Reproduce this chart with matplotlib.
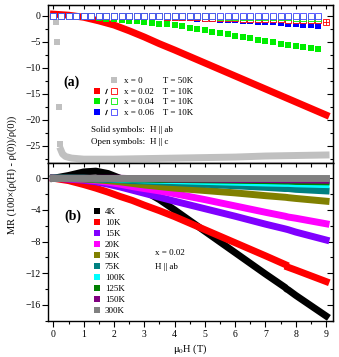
import numpy as np
import matplotlib
matplotlib.use("Agg")
import matplotlib.pyplot as plt
from matplotlib.lines import Line2D
from matplotlib.legend_handler import HandlerTuple
from matplotlib.ticker import MultipleLocator

plt.rcParams['font.family'] = ['Liberation Serif', 'DejaVu Serif']
plt.rcParams['mathtext.fontset'] = 'stix'

# ---------------- panel (a) data ----------------
# open / sparse solid symbols, field grid of the measurement (T)
H_sq = [0.0, 0.25, 0.5, 0.75, 1.0, 1.25, 1.5, 1.75, 2.0, 2.25, 2.5, 2.75,
        3.0, 3.25, 3.5, 3.75, 4.0, 4.25, 4.5, 4.75, 5.0, 5.25, 5.5, 5.75,
        6.0, 6.25, 6.5, 6.75, 7.0, 7.25, 7.5, 7.75, 8.0, 8.25, 8.5, 8.75]
mr_004_ab = [0.0, 0.0, -0.05, -0.1, -0.2, -0.3, -0.45, -0.55, -0.7, -0.8, -0.95, -1.05,
             -1.2, -1.35, -1.5, -1.65, -1.8, -2.05, -2.3, -2.55, -2.8, -3.05, -3.3, -3.6,
             -3.85, -4.1, -4.35, -4.6, -4.85, -5.1, -5.35, -5.55, -5.8, -6.05, -6.3, -6.5]
mr_006_ab = [0.0, 0.0, 0.0, 0.0, 0.0, 0.0, 0.0, -0.05, -0.05, -0.1, -0.1, -0.15,
             -0.2, -0.25, -0.3, -0.35, -0.4, -0.45, -0.5, -0.55, -0.6, -0.7, -0.75, -0.85,
             -0.9, -1.0, -1.05, -1.15, -1.2, -1.3, -1.4, -1.5, -1.6, -1.7, -1.8, -1.9]
mr_002_c = [0.0, 0.0, 0.0, 0.0, 0.0, 0.0, 0.0, 0.0, 0.0, -0.05, -0.05, -0.1,
            -0.1, -0.15, -0.15, -0.2, -0.2, -0.25, -0.3, -0.3, -0.35, -0.4, -0.4, -0.45,
            -0.5, -0.55, -0.55, -0.6, -0.65, -0.7, -0.7, -0.75, -0.8, -0.85, -0.85, -0.9]
mr_004_c = [0.0, 0.0, 0.0, 0.0, 0.0, 0.0, 0.0, 0.0, 0.0, 0.0, 0.0, -0.05,
            -0.05, -0.05, -0.05, -0.1, -0.1, -0.1, -0.1, -0.15, -0.15, -0.15, -0.2, -0.2,
            -0.2, -0.25, -0.25, -0.25, -0.3, -0.3, -0.3, -0.3, -0.35, -0.35, -0.35, -0.4]
mr_006_c = [0.0, 0.0, 0.0, 0.0, 0.0, 0.0, 0.0, 0.0, 0.0, 0.0, 0.0, 0.0,
            0.0, 0.0, 0.0, 0.0, 0.0, 0.0, 0.0, 0.0, -0.05, -0.05, -0.05, -0.05,
            -0.1, -0.1, -0.1, -0.1, -0.1, -0.1, -0.15, -0.15, -0.15, -0.15, -0.15, -0.15]
H_002_c_end = [9.0]
mr_002_c_end = [-1.3]

# dense solid symbols (x = 0.02, H || ab)
H_002_ab = [0, 0.5, 1, 1.5, 2, 2.5, 3, 3.5, 4, 5, 6, 7, 8, 9]
mr_002_ab = [0.3, 0.1, -0.3, -1.0, -1.8, -2.9, -4.1, -5.4, -6.6, -9.1, -11.6, -14.1, -16.6, -19.1]

# x = 0, T = 50K
H_x0_pts = [0.08, 0.13, 0.17, 0.2]
mr_x0_pts = [-1.15, -5.0, -17.5, -24.7]
H_x0 = [0.25, 0.3, 0.4, 0.6, 1, 2, 3, 4, 5, 6, 7, 8, 9]
mr_x0 = [-25.9, -26.6, -27.1, -27.4, -27.6, -27.6, -27.5, -27.4, -27.3, -27.2, -27.0, -26.9, -26.8]

# ---------------- panel (b) data: x = 0.02, H || ab ----------------
temps = ['4K', '10K', '15K', '20K', '50K', '75K', '100K', '125K', '150K', '300K']
colors_b = ['black', 'red', '#8000ff', 'magenta', '#808000', '#008080',
            'cyan', 'green', 'purple', 'gray']
H_b = [0, 0.5, 1, 1.4, 1.8, 2.2, 2.6, 3, 3.5, 4, 5, 6, 7, 7.65, 7.7, 7.75, 8, 9]
mr_b = {
    '4K':   [0, 0.35, 0.8, 0.9, 0.6, 0.0, -0.8, -1.6, -2.7, -4.0, -6.7, -9.4, -12.1, -13.8, -14.0, -14.1, -14.8, -17.4],
    '10K':  [0, -0.3, -0.8, -1.25, -1.75, -2.3, -2.8, -3.4, -4.1, -4.85, -6.5, -8.15, -9.8, -10.9, np.nan, -11.25, -11.6, -13.05],
    '15K':  [0, -0.1, -0.25, -0.45, -0.75, -1.1, -1.5, -1.9, -2.4, -2.9, -3.85, -4.8, -5.8, -6.4, -6.45, -6.5, -6.8, -7.8],
    '20K':  [0, -0.05, -0.15, -0.3, -0.5, -0.75, -1.05, -1.3, -1.6, -1.95, -2.7, -3.5, -4.3, -4.8, -4.85, -4.9, -5.05, -5.75],
    '50K':  [0, -0.03, -0.1, -0.2, -0.3, -0.45, -0.65, -0.85, -1.05, -1.25, -1.55, -1.85, -2.2, -2.4, -2.42, -2.45, -2.55, -2.9],
    '75K':  [0, 0, -0.05, -0.1, -0.15, -0.2, -0.3, -0.35, -0.45, -0.55, -0.75, -0.95, -1.15, -1.3, -1.3, -1.3, -1.4, -1.6],
    '100K': [0, 0, 0, -0.05, -0.05, -0.1, -0.15, -0.2, -0.25, -0.3, -0.4, -0.5, -0.6, -0.65, -0.65, -0.65, -0.7, -0.8],
    '125K': [0, 0, 0, 0, -0.05, -0.05, -0.1, -0.1, -0.15, -0.15, -0.2, -0.25, -0.3, -0.35, -0.35, -0.35, -0.4, -0.45],
    '150K': [0, 0, 0, 0, 0, 0, -0.05, -0.05, -0.05, -0.1, -0.1, -0.15, -0.15, -0.2, -0.2, -0.2, -0.2, -0.25],
    '300K': [0, 0, 0, 0, 0, 0, 0, 0, 0, 0, 0, 0, 0, 0, 0, 0, 0, 0],
}

W, Hpx = 339, 357
fig = plt.figure(figsize=(W / 100, Hpx / 100), dpi=100)
left, right = 48.3, 333
top1, mid, bot = 5, 163.3, 320.7
ax1 = fig.add_axes([left / W, 1 - mid / Hpx, (right - left) / W, (mid - top1) / Hpx])
ax2 = fig.add_axes([left / W, 1 - bot / Hpx, (right - left) / W, (bot - mid) / Hpx])

FS = 7
lw_band = 5

# ---- panel (a) ----
ax1.plot(H_x0, mr_x0, color='#c0c0c0', lw=lw_band, solid_capstyle='projecting', zorder=2)
ax1.plot(H_x0_pts, mr_x0_pts, 's', color='#c0c0c0', ms=4, mew=0, zorder=2)
ax1.plot(H_002_ab, mr_002_ab, color='red', lw=lw_band, solid_capstyle='projecting', zorder=3)
ax1.plot(H_sq, mr_004_ab, 's', color='#00ee00', ms=4, mew=0, zorder=4)
ax1.plot(H_sq, mr_006_ab, 's', color='blue', ms=4, mew=0, zorder=5)
ax1.plot(H_sq, mr_002_c, 's', mfc='white', mec='red', ms=4, mew=0.6, zorder=6)
ax1.plot(H_002_c_end, mr_002_c_end, 's', mfc='white', mec='red', ms=4, mew=0.6, zorder=6)
ax1.plot(H_002_c_end, mr_002_c_end, '+', color='red', ms=4, mew=0.6, zorder=6)
ax1.plot(H_sq, mr_004_c, 's', mfc='white', mec='#00ee00', ms=4, mew=0.6, zorder=7)
ax1.plot(H_sq, mr_006_c, 's', mfc='white', mec='#4040ff', ms=4, mew=0.6, zorder=8)

ax1.set_xlim(-0.17, 9.23)
ax1.set_ylim(-28.4, 2.06)
ax1.yaxis.set_major_locator(MultipleLocator(5))
ax1.yaxis.set_minor_locator(MultipleLocator(2.5))

blank = Line2D([], [], linestyle='none')
slash = Line2D([], [], linestyle='none', marker='$/$', color='k', ms=3.5, mew=0.3)


def sq(c, filled=True):
    if filled:
        return Line2D([], [], linestyle='none', marker='s', color=c, ms=4, mew=0)
    return Line2D([], [], linestyle='none', marker='s', mfc='white', mec=c, ms=4, mew=0.6)


handles_a = [(blank, blank, sq('#c0c0c0')),
             (sq('red'), slash, sq('red', False)),
             (sq('#00ee00'), slash, sq('#00ee00', False)),
             (sq('blue'), slash, sq('#4040ff', False))]
labels_a = ['x = 0' + ' ' * 9 + 'T = 50K',
            'x = 0.02' + ' ' * 4 + 'T = 10K',
            'x = 0.04' + ' ' * 4 + 'T = 10K',
            'x = 0.06' + ' ' * 4 + 'T = 10K']
leg1 = ax1.legend(handles_a, labels_a, handler_map={tuple: HandlerTuple(ndivide=None, pad=0)},
                  loc='upper left', bbox_to_anchor=(0.157, 0.545), frameon=False,
                  fontsize=6.5, handlelength=2.8, handletextpad=0.6, labelspacing=0.25,
                  borderpad=0, borderaxespad=0)
ax1.text(0.083, 0.514, '(a)', transform=ax1.transAxes, fontsize=10, fontweight='bold',
         ha='center', va='center')
ax1.text(0.15, 0.21, 'Solid symbols:', transform=ax1.transAxes, fontsize=6.5, va='center')
ax1.text(0.357, 0.21, 'H || ab', transform=ax1.transAxes, fontsize=6.5, va='center')
ax1.text(0.15, 0.136, 'Open symbols:', transform=ax1.transAxes, fontsize=6.5, va='center')
ax1.text(0.357, 0.136, 'H || c', transform=ax1.transAxes, fontsize=6.5, va='center')

# ---- panel (b) ----
for t, c in zip(temps, colors_b):
    ax2.plot(H_b, mr_b[t], color=c, lw=lw_band, solid_capstyle='projecting', label=t)

ax2.set_xlim(-0.17, 9.23)
ax2.set_ylim(-18.0, 1.89)
ax2.yaxis.set_major_locator(MultipleLocator(4))
ax2.yaxis.set_minor_locator(MultipleLocator(2))

handles_b = [Line2D([], [], linestyle='none', marker='s', color=c, ms=4.3, mew=0) for c in colors_b]
ax2.legend(handles_b, temps, loc='upper left', bbox_to_anchor=(0.157, 0.72), frameon=False,
           fontsize=6.5, handlelength=0.8, handletextpad=0.5, labelspacing=0.3,
           borderpad=0, borderaxespad=0)
ax2.text(0.087, 0.665, '(b)', transform=ax2.transAxes, fontsize=10, fontweight='bold',
         ha='center', va='center')
ax2.text(0.375, 0.43, 'x = 0.02', transform=ax2.transAxes, fontsize=6.5, va='center')
ax2.text(0.375, 0.343, 'H || ab', transform=ax2.transAxes, fontsize=6.5, va='center')

# ---- axes styling ----
for ax in (ax1, ax2):
    ax.xaxis.set_major_locator(MultipleLocator(1))
    ax.xaxis.set_minor_locator(MultipleLocator(0.5))
    for s in ax.spines.values():
        s.set_linewidth(1.0)
    ax.tick_params(which='major', direction='out', length=4, width=0.8, labelsize=FS, pad=1.5)
    ax.tick_params(which='minor', direction='out', length=2, width=0.8)
    sx = ax.secondary_xaxis('top')
    sx.xaxis.set_major_locator(MultipleLocator(1))
    sx.xaxis.set_minor_locator(MultipleLocator(0.5))
    sx.tick_params(which='major', direction='in', length=3, width=0.8, labeltop=False)
    sx.tick_params(which='minor', direction='in', length=3, width=0.8)
    sy = ax.secondary_yaxis('right')
    sy.yaxis.set_major_locator(ax.yaxis.get_major_locator())
    sy.yaxis.set_minor_locator(ax.yaxis.get_minor_locator())
    sy.tick_params(which='major', direction='in', length=4, width=0.8, labelright=False)
    sy.tick_params(which='minor', direction='in', length=2, width=0.8)

ax1.tick_params(axis='x', which='both', bottom=False, labelbottom=False)
ax2.tick_params(axis='x', which='major', pad=3)

ax2.set_xlabel('μ$_0$H (T)', fontsize=7.5, labelpad=2)
fig.text(12 / W, 1 - 175 / Hpx, 'MR (100×(ρ(H) - ρ(0))/ρ(0))', rotation=90,
         fontsize=7.5, ha='center', va='center')

fig.savefig('out.png', dpi=100)
